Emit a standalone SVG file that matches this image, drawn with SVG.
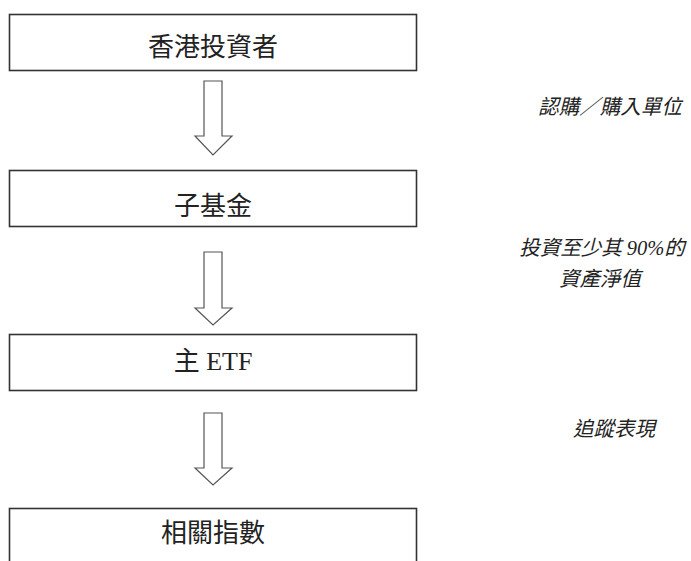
<svg xmlns="http://www.w3.org/2000/svg" width="691" height="561" viewBox="0 0 691 561">
<style>
.box{fill:#fff;stroke:#333;stroke-width:1.6}
.arr{fill:#fff;stroke:#555;stroke-width:1.2;stroke-linejoin:miter}
.t{font-family:"Liberation Serif","Noto Sans CJK TC",serif;font-size:26px;fill:#222;text-anchor:middle}
.n{font-family:"Liberation Serif","Noto Sans CJK TC",serif;font-size:20.5px;font-style:italic;fill:#222;text-anchor:middle}
</style>
<rect width="691" height="561" fill="#fff"/>
<g id="connectors">
<polygon class="arr" points="204,81 222,81 222,136 232,136 213,155 195,136 204,136"/>
<polygon class="arr" points="204,252 222,252 222,308 232,308 213,325 195,308 204,308"/>
<polygon class="arr" points="204,413 222,413 222,468 232,468 213,485 195,468 204,468"/>
</g>
<g id="node-investor">
<rect class="box" x="9.5" y="14.5" width="407" height="56"/>
<text class="t" x="213" y="56">香港投資者</text>
</g>
<g id="node-subfund">
<rect class="box" x="9.5" y="170.5" width="407" height="56"/>
<text class="t" x="213" y="215">子基金</text>
</g>
<g id="node-master-etf">
<rect class="box" x="9.5" y="334.5" width="407" height="56"/>
<text class="t" x="213" y="370">主 ETF</text>
</g>
<g id="node-index">
<rect class="box" x="9.5" y="508.5" width="407" height="80"/>
<text class="t" x="213" y="542">相關指數</text>
</g>
<g id="labels">
<text class="n" x="610" y="114">認購／購入單位</text>
<text class="n" x="602" y="255">投資至少其 90%的</text>
<text class="n" x="600" y="286">資產淨值</text>
<text class="n" x="614" y="436">追蹤表現</text>
</g>
</svg>
